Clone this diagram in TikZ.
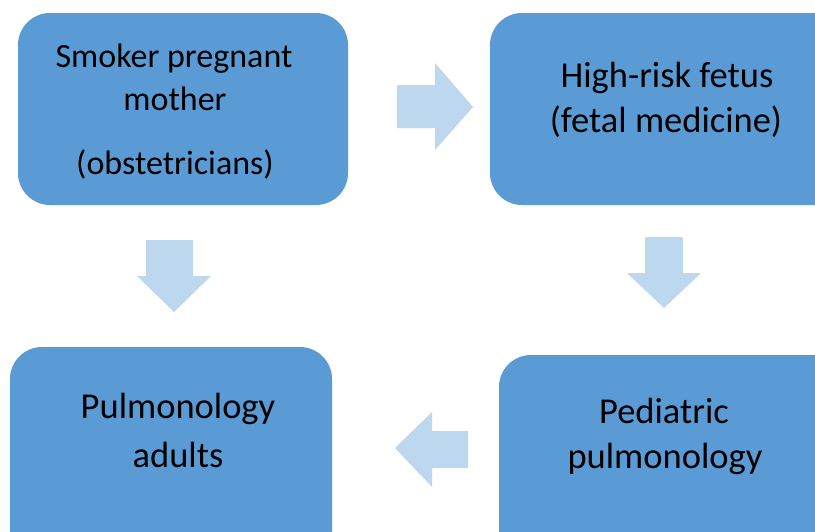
\documentclass[tikz,border=0pt]{standalone}
\usepackage{fontspec}
\setmainfont{Carlito}
\definecolor{boxblue}{HTML}{5B9BD5}
\definecolor{arrowblue}{HTML}{BDD7EE}
\begin{document}
\begin{tikzpicture}[x=1pt,y=-1pt,
  box/.style={fill=boxblue,draw=none,rounded corners=32pt},
  blockarrow/.style={fill=arrowblue,draw=none},
  lbl/.style={anchor=base,inner sep=0pt,font=\fontsize{36.5}{40}\selectfont,text=black},
  lbls/.style={lbl,font=\fontsize{34}{40}\selectfont}]
\useasboundingbox (0,0) rectangle (815,531);
\clip (0,0) rectangle (815,531);
% boxes
\path[box] (18,13) rectangle (348,205);
\node[coordinate] (b1) at (183,109) {};
\path[box] (490,13) rectangle (850,205);
\node[coordinate] (b2) at (652,109) {};
\path[box] (10,347) rectangle (332,570);
\node[coordinate] (b3) at (171,440) {};
\path[box] (499,355) rectangle (850,570);
\node[coordinate] (b4) at (657,440) {};
% arrows
\path[blockarrow] (397,85) -- (435,85) -- (435,63) -- (473,107) -- (435,150) -- (435,128) -- (397,128) -- cycle;
\path[blockarrow] (146,240) -- (193,240) -- (193,276) -- (211,276) -- (174,312) -- (137,276) -- (146,276) -- cycle;
\path[blockarrow] (645,237) -- (683,237) -- (683,273) -- (701,273) -- (664,308) -- (627,273) -- (645,273) -- cycle;
\path[blockarrow] (468,431) -- (432,431) -- (432,412) -- (395,448) -- (432,487) -- (432,468) -- (468,468) -- cycle;
% texts
\node[lbls] (t1a) at (174,67) {Smoker pregnant};
\node[lbls] (t1b) at (175,110) {mother};
\node[lbls] (t1c) at (175,174) {(obstetricians)};
\node[lbl] (t2a) at (667,87) {High-risk fetus};
\node[lbl] (t2b) at (666,132) {(fetal medicine)};
\node[lbl] (t3a) at (178,418) {Pulmonology};
\node[lbl] (t3b) at (178,467) {adults};
\node[lbl] (t4a) at (664,423) {Pediatric};
\node[lbl] (t4b) at (665,468) {pulmonology};
\end{tikzpicture}
\end{document}
